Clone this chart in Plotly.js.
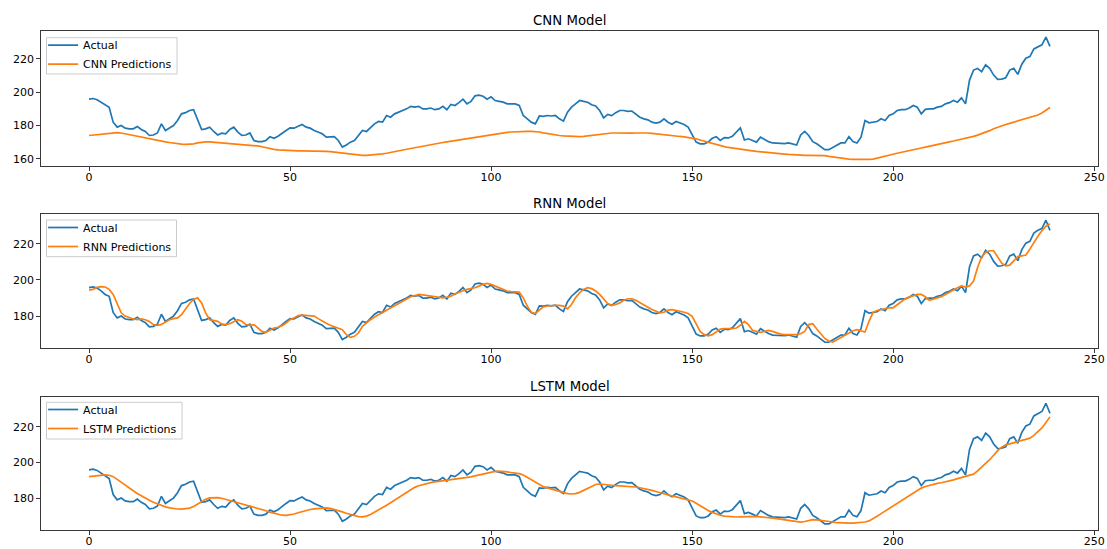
<!DOCTYPE html>
<html><head><meta charset="utf-8">
<script src="https://cdn.plot.ly/plotly-3.0.1.min.js"></script>
<style>html,body{margin:0;padding:0;background:#fff}#chart{width:1107px;height:549px}</style>
</head><body><div id="chart"></div>
<script>
// ---- data ----
const panelTitles = ["CNN Model", "RNN Model", "LSTM Model"];
const seriesNames = ["Actual", "CNN Predictions", "RNN Predictions", "LSTM Predictions"];
const xTicks = [0, 50, 100, 150, 200, 250];

const actual = [
195.8,196.2,195.5,194,192,191,182,179,180,178.4,
178,178,179.4,177.6,176.4,174,174.3,175.5,181,177,
178.5,180,183,187,187.7,189,189.5,183,177.6,178,
179,176.4,174.3,175.4,175,177.6,179,176,174,174.3,
175.5,171,170.3,170.3,171,173.3,172.3,173.5,175,177,
178.6,178.4,179.6,180.6,179,178.4,177,176,175,173,
173,173.3,171,167,168.3,170,171,174,177,176.4,
179,181,182.4,182,186,185,187,188,189,190,
191.5,191,191.5,190,190,190.5,189.5,190,191.5,189.5,
192.7,192,193.7,195.8,193,194.5,197.8,198.2,197.6,195.8,
197.2,195,194.5,194,193,193,193,192,186,184,
182,181,185.7,185.5,186,185.7,186,184,182.6,188,
191,193,195,194.5,194,192.5,191.7,189,184.6,186.7,
185.9,187.7,189,189,188.5,188.7,187,185,184,183.4,
182,181.4,182,184,182,180.8,182.4,181.4,180.6,179,
174,170,169,169,170,172.3,173.3,171,172.7,172.5,
173.5,176,178.6,171.3,172,171,170,173,171.5,170.3,
169.5,169.3,169.5,169.1,169.5,169,168.3,174.3,176.4,174,
170.3,169,167.5,165.5,165.5,167,168.5,169.5,169.5,173.3,
170.3,169.5,173,183,181.6,182,182.4,184,183,186,
187,189,189.5,189.5,190.5,192,191,187,189.7,190,
190,191,191.5,193,193.7,195,194,196.6,193,207.3,
213.3,214.3,212.3,216.4,214.3,210.3,207.7,207.9,208.7,213.3,
214.3,210.7,216.8,220.4,221.4,226,227.5,228.5,233.1,227.5
];

const cnnPred = [
174.0,174.3,174.6,174.9,175.2,175.4,175.6,175.7,175.5,175.0,
174.4,173.8,173.3,172.8,172.4,172.0,171.5,171.0,170.6,170.2,
169.8,169.4,169.1,168.8,168.7,168.7,169.0,169.5,169.9,170.2,
170.2,170.0,169.8,169.7,169.6,169.4,169.2,169.0,168.8,168.6,
168.4,168.2,167.7,167.2,166.6,166.1,165.6,165.3,165.1,164.9,
164.8,164.8,164.7,164.8,164.8,164.9,164.9,164.8,164.7,164.5,
164.3,164.0,163.7,163.4,163.0,162.7,162.4,162.2,162.1,162.1,
162.2,162.4,162.6,162.9,163.3,163.7,164.2,164.7,165.2,165.7,
166.2,166.7,167.2,167.7,168.1,168.6,169.0,169.4,169.8,170.2,
170.6,171.0,171.4,171.8,172.2,172.6,173.0,173.4,173.8,174.2,
174.5,174.9,175.3,175.6,175.9,176.1,176.3,176.4,176.5,176.5,
176.5,176.4,176.1,175.6,175.1,174.7,174.3,174.0,173.8,173.6,
173.4,173.3,173.3,173.5,173.8,174.2,174.6,174.9,175.2,175.4,
175.5,175.5,175.4,175.3,175.3,175.4,175.5,175.6,175.6,175.5,
175.3,175.0,174.6,174.2,174.0,173.8,173.6,173.4,173.2,172.9,
172.5,172.0,171.3,170.6,169.8,169.1,168.5,167.9,167.3,166.8,
166.4,166.0,165.7,165.4,165.1,164.8,164.5,164.2,163.9,163.6,
163.4,163.2,163.0,162.8,162.6,162.4,162.3,162.2,162.1,162.1,
162.1,162.2,162.2,161.9,161.4,161.0,160.6,160.3,160.0,159.8,
159.6,159.5,159.5,159.5,159.6,159.8,160.3,160.9,161.5,162.1,
162.7,163.3,163.9,164.5,165.0,165.5,166.0,166.5,167.0,167.6,
168.2,168.7,169.2,169.7,170.2,170.7,171.2,171.8,172.4,173.0,
173.5,174.2,175.0,175.9,176.9,178.0,179.0,179.9,180.6,181.3,
182.0,182.6,183.2,183.8,184.5,185.3,186.3,187.5,189.0,190.8
];

const rnnPred = [
194.4,194.8,195.9,196.3,196.1,194.8,192.0,186.4,181.8,180.0,
179.0,178.4,178.0,178.4,178.0,177.0,175.3,174.9,175.4,176.6,
178.0,178.6,179.0,180.8,184.0,187.0,189.2,190.1,187.3,181.8,
178.0,177.7,177.1,175.6,175.3,175.8,177.1,178.0,177.1,175.3,
174.9,175.3,173.4,171.5,171.0,172.1,173.4,173.8,174.7,176.2,
178.0,179.0,180.3,180.5,180.3,180.5,180.0,178.6,177.1,176.0,
174.9,174.1,173.4,172.5,169.7,168.2,168.8,170.6,174.3,176.3,
178.0,179.5,180.8,182.1,183.4,184.6,185.9,187.1,188.3,189.5,
190.7,191.3,192.0,191.7,191.3,191.0,190.7,190.4,190.1,190.5,
191.0,192.2,193.3,194.0,194.8,195.2,195.7,196.6,197.6,198.1,
197.6,196.6,195.7,194.8,193.9,193.6,193.3,193.3,190.1,185.5,
182.1,181.4,183.3,185.1,185.6,186.0,186.0,185.9,185.5,184.0,
186.4,190.1,192.9,194.8,195.7,195.2,193.9,192.0,189.2,187.0,
186.0,186.4,187.3,188.8,189.6,189.6,188.7,187.3,186.0,184.9,
183.6,182.7,181.8,182.1,183.3,183.6,183.3,182.7,182.1,181.4,
179.9,175.8,171.5,169.7,169.1,169.7,171.5,172.8,173.0,172.8,
173.0,173.4,174.9,177.1,175.3,172.1,171.5,171.0,171.5,172.1,
171.5,170.6,170.0,169.7,169.7,169.7,169.7,170.2,171.5,175.3,
175.8,172.8,169.9,167.6,166.2,165.6,166.9,168.2,169.7,170.6,
171.9,172.5,171.9,171.2,177.1,182.1,183.1,183.6,184.0,184.6,
184.6,186.4,188.3,189.6,190.5,191.1,192.0,192.0,190.7,188.8,
189.6,190.1,190.7,192.0,193.3,194.4,195.7,196.7,196.1,196.7,
199.4,206.9,212.8,215.3,216.2,216.2,212.5,209.3,207.8,208.2,
210.6,213.0,213.4,213.8,217.1,220.8,224.2,227.3,229.8,231.1
];

const lstmPred = [
192.0,192.3,192.6,192.9,193.0,192.8,192.0,190.5,188.8,187.2,
185.6,184.1,182.6,181.2,179.9,178.8,177.7,176.7,175.8,175.1,
174.5,174.1,173.9,173.8,173.9,174.4,175.3,176.6,178.0,179.3,
180.1,180.4,180.3,179.9,179.3,178.6,177.9,177.2,176.6,176.1,
175.6,175.1,174.5,173.7,172.9,172.1,171.4,170.8,170.4,170.3,
170.6,171.1,171.8,172.5,173.1,173.6,174.0,174.3,174.5,174.5,
174.2,173.7,173.1,172.3,171.5,170.8,170.1,169.6,169.5,169.9,
170.8,172.0,173.3,174.6,176.0,177.4,178.9,180.5,182.0,183.5,
184.9,186.0,186.9,187.6,188.2,188.7,189.1,189.4,189.6,189.8,
190.0,190.3,190.6,190.9,191.4,191.9,192.4,192.9,193.4,194.0,
194.6,195.0,195.1,195.0,194.7,194.3,194.0,193.7,192.9,191.6,
190.2,188.7,187.3,186.4,185.7,185.1,184.4,183.7,183.0,182.5,
182.3,182.5,183.2,184.3,185.6,186.8,187.6,187.9,187.8,187.5,
187.2,187.0,186.9,186.8,186.7,186.5,186.2,185.8,185.4,184.9,
184.3,183.7,183.0,182.4,181.8,181.2,180.7,180.2,179.7,179.2,
178.4,177.1,175.6,174.3,173.0,172.0,171.1,170.4,169.9,169.6,
169.4,169.4,169.5,169.6,169.7,169.8,169.7,169.5,169.4,169.1,
168.8,168.5,168.2,167.8,167.4,167.0,166.7,166.5,166.9,167.6,
167.9,167.8,167.6,167.3,167.0,166.6,166.2,166.0,166.0,166.0,
166.0,166.1,166.3,166.6,167.2,168.3,169.8,171.3,172.7,174.1,
175.5,176.9,178.3,179.6,181.1,182.6,184.2,185.6,186.5,187.2,
187.7,188.2,188.6,189.0,189.6,190.2,190.9,191.6,192.3,192.9,
193.4,195.2,197.2,199.4,201.5,204.0,206.6,208.5,209.8,210.4,
210.9,211.6,212.3,212.9,213.6,215.1,217.0,219.3,222.3,225.5
];

// ---- styling / layout ----
const BLUE = "#1f77b4", ORANGE = "#ff7f0e";
const FONT = "DejaVu Sans, sans-serif";
const xs = actual.map((_, i) => i);
const preds = [cnnPred, rnnPred, lstmPred];

function padRange(arrs) {
  let lo = Infinity, hi = -Infinity;
  arrs.forEach(a => a.forEach(v => { if (v < lo) lo = v; if (v > hi) hi = v; }));
  const p = (hi - lo) * 0.05;
  return [lo - p, hi + p];
}
const xr = padRange([xs]);

// pixel -> paper helpers (plot area: x 41..1098, y 31..530)
const ML = 41, MR = 9, MT = 31, MB = 19, W = 1107, H = 549;
const PW = W - ML - MR, PH = H - MT - MB;
const px = p => (p - ML) / PW;
const py = p => (H - MB - p) / PH;

const domains = [[0.730, 1.0], [0.364, 0.633], [0.0, 0.266]];
const legendNames = ["legend", "legend2", "legend3"];
const legendTops = [30.7, 213, 395];
const boxes = [[46.5, 37.7, 177, 74], [46.5, 220, 176.5, 256.7], [46.5, 402.3, 182, 439]];

const traces = [];
const layout = {
  width: W, height: H,
  margin: {l: ML, r: MR, t: MT, b: MB},
  paper_bgcolor: "#fff", plot_bgcolor: "#fff",
  font: {family: FONT, size: 11, color: "#000"},
  showlegend: true,
  annotations: [], shapes: []
};

for (let k = 0; k < 3; k++) {
  const sfx = k === 0 ? "" : String(k + 1);
  traces.push({x: xs, y: actual, type: "scatter", mode: "lines", name: seriesNames[0],
    line: {color: BLUE, width: 1.7}, xaxis: "x" + sfx, yaxis: "y" + sfx, legend: legendNames[k]});
  traces.push({x: xs, y: preds[k], type: "scatter", mode: "lines", name: seriesNames[k + 1],
    line: {color: ORANGE, width: 1.7}, xaxis: "x" + sfx, yaxis: "y" + sfx, legend: legendNames[k]});

  const axCommon = {showgrid: false, zeroline: false, showline: true, mirror: true,
    linecolor: "#222", linewidth: 0.9, ticks: "outside", ticklen: 4, tickwidth: 0.9,
    tickcolor: "#222", tickfont: {family: FONT, size: 11, color: "#000"}, automargin: false};
  layout["xaxis" + sfx] = Object.assign({}, axCommon, {
    domain: [0, 1], anchor: "y" + sfx, range: xr, tickmode: "array", tickvals: xTicks,
    ticktext: xTicks.map(String), ticklabelstandoff: -3});
  const yr = padRange([actual, preds[k]]);
  layout["yaxis" + sfx] = Object.assign({}, axCommon, {
    domain: domains[k], anchor: "x" + sfx, range: yr, dtick: 20, tick0: 0});
  layout.annotations.push({text: panelTitles[k], xref: "paper", yref: "paper", x: 0.5,
    y: domains[k][1], xanchor: "center", yanchor: "bottom", yshift: 1.5, showarrow: false,
    font: {family: FONT, size: 13.3, color: "#000"}});
  layout[legendNames[k]] = {x: 0.002, y: py(legendTops[k]), xanchor: "left", yanchor: "top",
    bgcolor: "rgba(0,0,0,0)", borderwidth: 0,
    font: {family: FONT, size: 11, color: "#000"}, itemwidth: 30, tracegroupgap: 0};
  const b = boxes[k];
  layout.shapes.push({type: "rect", xref: "paper", yref: "paper", layer: "above",
    x0: px(b[0]), x1: px(b[2]), y0: py(b[1]), y1: py(b[3]),
    fillcolor: "rgba(255,255,255,0.8)", line: {color: "#cccccc", width: 1}});
}

Plotly.newPlot("chart", traces, layout, {displayModeBar: false, staticPlot: true});
</script></body></html>
